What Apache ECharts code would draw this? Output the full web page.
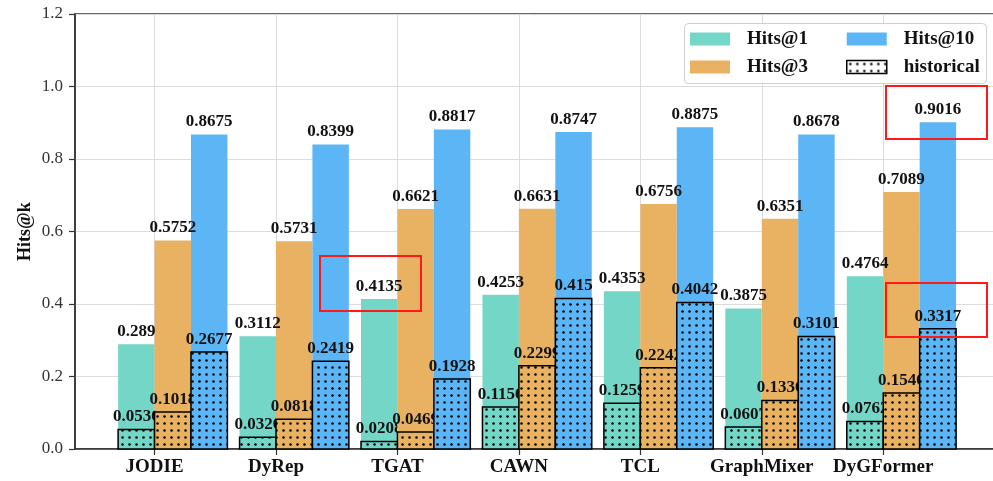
<!DOCTYPE html>
<html>
<head>
<meta charset="utf-8">
<script src="https://cdn.jsdelivr.net/npm/echarts@6/dist/echarts.min.js"></script>
<style>
  html, body { margin: 0; padding: 0; background: #fff; }
  #chart { width: 993px; height: 481px; }
</style>
</head>
<body>
<div id="chart"></div>
<script>
// Models and their Hits@k scores
const categories = ['JODIE', 'DyRep', 'TGAT', 'CAWN', 'TCL', 'GraphMixer', 'DyGFormer'];
const hits1  = [0.289, 0.3112, 0.4135, 0.4253, 0.4353, 0.3875, 0.4764];
const hits3  = [0.5752, 0.5731, 0.6621, 0.6631, 0.6756, 0.6351, 0.7089];
const hits10 = [0.8675, 0.8399, 0.8817, 0.8747, 0.8875, 0.8678, 0.9016];
// Scores obtained from historical information only
const hist1  = [0.0536, 0.0326, 0.0208, 0.1156, 0.1259, 0.0607, 0.0762];
const hist3  = [0.1018, 0.0818, 0.0469, 0.2299, 0.2242, 0.1336, 0.1546];
const hist10 = [0.2677, 0.2419, 0.1928, 0.415, 0.4042, 0.3101, 0.3317];
const yTicks = [0, 0.2, 0.4, 0.6, 0.8, 1.0, 1.2];

const TEAL = '#74d6c7', ORANGE = '#e9b162', BLUE = '#5cb5f5';
const SERIF = '"Liberation Serif", "Times New Roman", serif';
const BAR_W = 0.3;

// Dotted hatch fill as a repeating canvas pattern
function dots(bg) {
  const c = document.createElement('canvas');
  c.width = 7; c.height = 7;
  const g = c.getContext('2d');
  g.fillStyle = bg; g.fillRect(0, 0, 7, 7);
  g.fillStyle = '#000';
  g.beginPath(); g.arc(3.5, 3.5, 1.25, 0, Math.PI * 2); g.fill();
  return { image: c, repeat: 'repeat' };
}

function toData(arr) { return arr.map((v, i) => [i, v]); }

function barRect(api, offset) {
  const i = api.value(0), v = api.value(1);
  const p0 = api.coord([i + offset - BAR_W / 2, 0]);
  const p1 = api.coord([i + offset + BAR_W / 2, v]);
  return { x: p0[0], y: p1[1], width: p1[0] - p0[0], height: p0[1] - p1[1] };
}

function labelEl(api, offset) {
  const r = barRect(api, offset);
  return {
    type: 'text',
    style: {
      text: String(api.value(1)),
      x: r.x + r.width / 2, y: r.y - 4,
      align: 'center', verticalAlign: 'bottom',
      font: 'bold 17px ' + SERIF, fill: '#111'
    }
  };
}

function fullSeries(name, values, offset, color) {
  return {
    type: 'custom', name, data: toData(values), encode: { x: 0, y: 1 },
    itemStyle: { color },
    renderItem: (p, api) => ({ type: 'rect', shape: barRect(api, offset), style: { fill: color } })
  };
}

function histSeries(values, offset, color) {
  const fill = dots(color);
  return {
    type: 'custom', name: 'historical', data: toData(values), encode: { x: 0, y: 1 },
    itemStyle: { color: '#fff', borderColor: '#000' },
    renderItem: (p, api) => ({
      type: 'group',
      children: [
        { type: 'rect', shape: barRect(api, offset), style: { fill, stroke: '#000', lineWidth: 1.5 } },
        labelEl(api, offset)
      ]
    })
  };
}

function labelSeries(name, values, offset) {
  return {
    type: 'custom', name, data: toData(values), encode: { x: 0, y: 1 },
    renderItem: (p, api) => labelEl(api, offset)
  };
}

// Vertical grid lines at each model position
const gridSeries = {
  type: 'custom', name: '_grid', data: [], renderItem: () => null,
  markLine: {
    z: 1, silent: true, symbol: 'none', animation: false,
    label: { show: false },
    lineStyle: { color: '#dcdcdc', width: 1, type: 'solid' },
    data: categories.map((c, i) => ({ xAxis: i }))
  }
};

const legendText = { fontFamily: SERIF, fontWeight: 'bold', fontSize: 19, color: '#111', lineHeight: 20, padding: [0, 0, 0, 12] };
const legendBase = {
  orient: 'vertical', top: 29, itemWidth: 40, itemHeight: 13, itemGap: 8,
  icon: 'rect', padding: 0, z: 6, textStyle: legendText
};

const chart = echarts.init(document.getElementById('chart'));
chart.setOption({
  animation: false,
  grid: { left: 75, right: -5, top: 14, bottom: 32, outerBoundsMode: 'none', show: true, borderColor: '#333', borderWidth: 1.5 },
  xAxis: {
    type: 'value', min: -0.655, max: 6.945,
    splitLine: { show: false },
    axisLine: { onZero: false, lineStyle: { color: '#333', width: 1.5 } },
    axisTick: { show: true, length: 6, customValues: categories.map((c, i) => i), lineStyle: { color: '#333', width: 1.2 } },
    axisLabel: {
      customValues: categories.map((c, i) => i),
      formatter: v => categories[Math.round(v)],
      margin: 9, fontFamily: SERIF, fontWeight: 'bold', fontSize: 19, color: '#111'
    }
  },
  yAxis: {
    type: 'value', min: 0, max: 1.2, interval: 0.2,
    name: 'Hits@k', nameLocation: 'middle', nameGap: 41, nameRotate: 90, nameMoveOverlap: false,
    nameTextStyle: { fontFamily: SERIF, fontWeight: 'bold', fontSize: 18, color: '#111' },
    axisLine: { show: true, onZero: false, lineStyle: { color: '#333', width: 1.5 } },
    axisTick: { show: true, length: 6, lineStyle: { color: '#333', width: 1.2 } },
    axisLabel: {
      margin: 12, fontFamily: SERIF, fontSize: 17, color: '#333',
      formatter: v => yTicks.includes(Math.round(v * 10) / 10) ? v.toFixed(1) : ''
    },
    splitLine: { show: true, lineStyle: { color: '#dcdcdc', width: 1 } }
  },
  legend: [
    Object.assign({}, legendBase, {
      left: 690,
      data: [
        { name: 'Hits@1', itemStyle: { color: TEAL, borderWidth: 0 } },
        { name: 'Hits@3', itemStyle: { color: ORANGE, borderWidth: 0 } }
      ]
    }),
    Object.assign({}, legendBase, {
      left: 846,
      data: [
        { name: 'Hits@10', itemStyle: { color: BLUE, borderWidth: 0 } },
        { name: 'historical', itemStyle: { color: dots('#fff'), borderColor: '#000', borderWidth: 1.5 } }
      ]
    })
  ],
  graphic: [
    // legend frame
    { type: 'rect', z: 5, shape: { x: 684.5, y: 23.5, width: 302, height: 60, r: 4 },
      style: { fill: 'rgba(255,255,255,0.9)', stroke: '#d0d0d0', lineWidth: 1 } },
    // highlight boxes
    { type: 'rect', z: 20, shape: { x: 320, y: 256, width: 101, height: 55 }, style: { fill: 'none', stroke: '#ff1a1a', lineWidth: 2 } },
    { type: 'rect', z: 20, shape: { x: 886, y: 86, width: 101, height: 53 }, style: { fill: 'none', stroke: '#ff1a1a', lineWidth: 2 } },
    { type: 'rect', z: 20, shape: { x: 886, y: 283, width: 101, height: 54 }, style: { fill: 'none', stroke: '#ff1a1a', lineWidth: 2 } }
  ],
  series: [
    gridSeries,
    fullSeries('Hits@1', hits1, -0.15, TEAL),
    histSeries(hist1, -0.15, TEAL),
    fullSeries('Hits@3', hits3, 0.15, ORANGE),
    histSeries(hist3, 0.15, ORANGE),
    fullSeries('Hits@10', hits10, 0.45, BLUE),
    histSeries(hist10, 0.45, BLUE),
    labelSeries('Hits@1', hits1, -0.15),
    labelSeries('Hits@3', hits3, 0.15),
    labelSeries('Hits@10', hits10, 0.45)
  ]
});
</script>
</body>
</html>
